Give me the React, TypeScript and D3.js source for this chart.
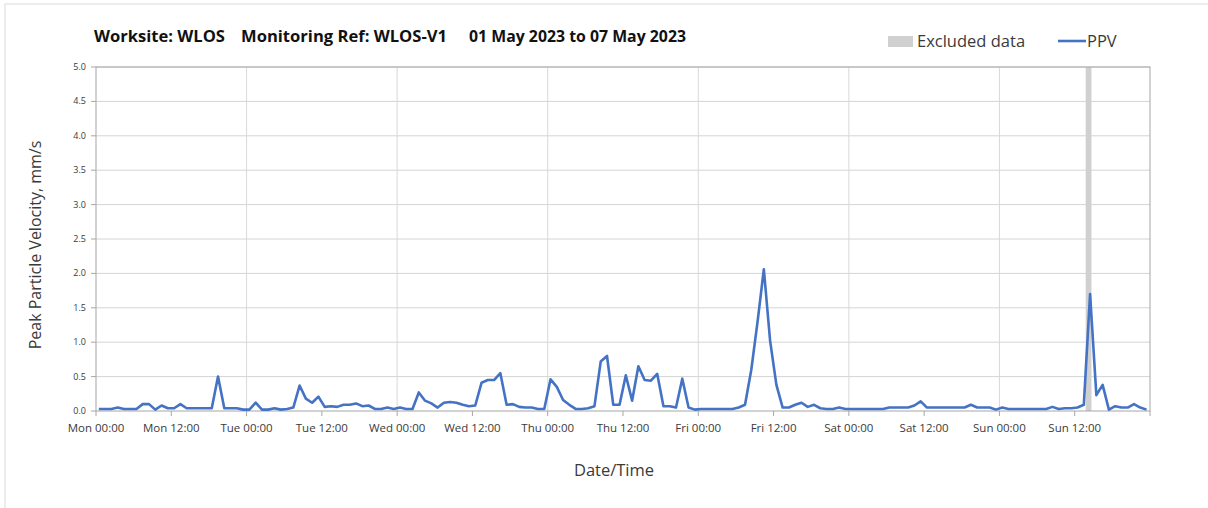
import React from "react";
import * as d3 from "d3";

// Hourly PPV readings (mm/s), one array per day, first reading at 00:27
const monValues = [0.03,0.03,0.03,0.05,0.03,0.03,0.03,0.10,0.10,0.02,0.08,0.04,0.04,0.10,0.04,0.04,0.04,0.04,0.04,0.50,0.04,0.04,0.04,0.02];
const tueValues = [0.02,0.12,0.02,0.02,0.04,0.02,0.03,0.05,0.37,0.18,0.12,0.21,0.06,0.07,0.06,0.09,0.09,0.11,0.07,0.08,0.03,0.03,0.05,0.03];
const wedValues = [0.05,0.03,0.03,0.27,0.15,0.11,0.05,0.12,0.13,0.12,0.09,0.07,0.08,0.41,0.45,0.45,0.55,0.09,0.10,0.06,0.05,0.05,0.03,0.03];
const thuValues = [0.46,0.35,0.16,0.09,0.03,0.03,0.04,0.07,0.72,0.80,0.09,0.09,0.52,0.15,0.65,0.45,0.44,0.54,0.07,0.07,0.05,0.47,0.05,0.02];
const friValues = [0.03,0.03,0.03,0.03,0.03,0.03,0.05,0.09,0.60,1.30,2.06,1.02,0.38,0.05,0.05,0.09,0.12,0.06,0.09,0.04,0.03,0.03,0.05,0.03];
const satValues = [0.03,0.03,0.03,0.03,0.03,0.03,0.05,0.05,0.05,0.05,0.08,0.14,0.05,0.05,0.05,0.05,0.05,0.05,0.05,0.09,0.05,0.05,0.05,0.02];
const sunValues = [0.05,0.03,0.03,0.03,0.03,0.03,0.03,0.03,0.06,0.03,0.04,0.04,0.05,0.09,1.70,0.23,0.38,0.02,0.07,0.05,0.05,0.10,0.05,0.02];

const dayArrays = [monValues, tueValues, wedValues, thuValues, friValues, satValues, sunValues];
const startDate = new Date(2023, 4, 1, 0, 0);
const endDate = new Date(2023, 4, 8, 0, 0);
const firstReadingMinute = 27;

const excludedStart = new Date(2023, 4, 7, 13, 45);
const excludedEnd = new Date(2023, 4, 7, 14, 40);

const yTicks = [0, 0.5, 1.0, 1.5, 2.0, 2.5, 3.0, 3.5, 4.0, 4.5, 5.0];

const titleParts = ["Worksite: WLOS", "Monitoring Ref: WLOS-V1", "01 May 2023 to 07 May 2023"];
const legendLabels = ["Excluded data", "PPV"];
const yAxisTitle = "Peak Particle Velocity, mm/s";
const xAxisTitle = "Date/Time";

export default function App() {
  const W = 1208, H = 508;
  const L = 96, R = 1150, T = 67, B = 411;
  const x = d3.scaleTime().domain([startDate, endDate]).range([L, R]);
  const y = d3.scaleLinear().domain([0, 5]).range([B, T]);

  const data: { t: Date; v: number }[] = [];
  dayArrays.forEach((arr, d) => {
    arr.forEach((v, h) => {
      data.push({ t: new Date(2023, 4, 1 + d, h, firstReadingMinute), v });
    });
  });

  const line = d3.line<{ t: Date; v: number }>().x(p => x(p.t)).y(p => y(p.v));
  const dayTicks = d3.timeDay.range(startDate, endDate);
  const halfDayTicks = d3.timeHour.every(12)!.range(startDate, endDate);
  const fmt = d3.timeFormat("%a %H:%M");
  const font = "'Open Sans', 'Noto Sans', sans-serif";
  const txt = "#3a3a3a";

  return (
    <svg width={W} height={H} style={{ position: "absolute", left: 0, top: 0, background: "#fff" }}>
      <rect x={5} y={4} width={W} height={H} fill="#fff" stroke="#d9d9d9" strokeWidth={1} />
      {/* grid */}
      {yTicks.slice(1).map(t => (
        <line key={"gy" + t} x1={L} x2={R} y1={y(t)} y2={y(t)} stroke="#d4d4d4" strokeWidth={1} />
      ))}
      {dayTicks.slice(1).map(t => (
        <line key={"gx" + +t} x1={x(t)} x2={x(t)} y1={T} y2={B} stroke="#d9d9d9" strokeWidth={1} />
      ))}
      {/* excluded band */}
      <rect x={x(excludedStart)} y={T} width={x(excludedEnd) - x(excludedStart)} height={B - T} fill="#d0d0d0" />
      {/* frame */}
      <rect x={L} y={T} width={R - L} height={B - T} fill="none" stroke="#a6a6a6" strokeWidth={1} />
      {/* y ticks */}
      {yTicks.map(t => (
        <g key={"yt" + t}>
          <line x1={L - 5} x2={L} y1={y(t)} y2={y(t)} stroke="#a6a6a6" />
          <text x={L - 10} y={y(t) + 3} textAnchor="end" fontFamily={font} fontSize={9} fill={txt}>
            {t.toFixed(1)}
          </text>
        </g>
      ))}
      {/* x ticks */}
      {halfDayTicks.map(t => (
        <g key={"xt" + +t}>
          <line x1={x(t)} x2={x(t)} y1={B} y2={B + 5} stroke="#a6a6a6" />
          <text x={x(t)} y={B + 21} textAnchor="middle" fontFamily={font} fontSize={11.5} fill={txt}>
            {fmt(t)}
          </text>
        </g>
      ))}
      <line x1={R} x2={R} y1={B} y2={B + 5} stroke="#a6a6a6" />
      {/* data line */}
      <path d={line(data) || ""} fill="none" stroke="#4472C4" strokeWidth={2.6} strokeLinejoin="round" />
      {/* title */}
      <g fontFamily={font} fontSize={15.5} fontWeight="bold" fill="#111">
        <text x={94} y={42} textLength={131} lengthAdjust="spacingAndGlyphs">{titleParts[0]}</text>
        <text x={241} y={42} textLength={206} lengthAdjust="spacingAndGlyphs">{titleParts[1]}</text>
        <text x={469} y={42} textLength={217} lengthAdjust="spacingAndGlyphs">{titleParts[2]}</text>
      </g>
      {/* legend */}
      <rect x={888} y={36} width={25} height={11} fill="#d0d0d0" />
      <text x={917} y={47} fontFamily={font} fontSize={16.5} fill={txt}>{legendLabels[0]}</text>
      <line x1={1058} x2={1086} y1={41} y2={41} stroke="#4472C4" strokeWidth={2.6} />
      <text x={1087} y={47} fontFamily={font} fontSize={16.5} fill={txt}>{legendLabels[1]}</text>
      {/* axis titles */}
      <text transform={`translate(41,245) rotate(-90)`} textAnchor="middle" fontFamily={font} fontSize={16} fill={txt}>
        {yAxisTitle}
      </text>
      <text x={614} y={476} textAnchor="middle" fontFamily={font} fontSize={16.5} fill={txt}>
        {xAxisTitle}
      </text>
    </svg>
  );
}
